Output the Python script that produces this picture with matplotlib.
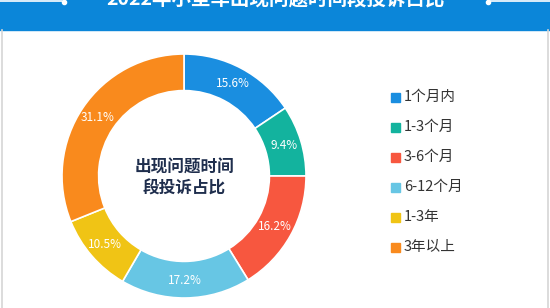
import matplotlib
matplotlib.use('Agg')
import matplotlib.pyplot as plt

plt.rcParams['font.family'] = ['Noto Sans CJK SC', 'DejaVu Sans']

TITLE = '2022年小型车出现问题时间段投诉占比'
CENTER_TEXT = '出现问题时间\n段投诉占比'
categories = ['1个月内', '1-3个月', '3-6个月', '6-12个月', '1-3年', '3年以上']
shares = [15.6, 9.4, 16.2, 17.2, 10.5, 31.1]
colors = ['#1a8ee0', '#13b39e', '#f7573f', '#67c6e4', '#f0c415', '#f98a1d']

W, H = 550, 308
fig = plt.figure(figsize=(W / 100, H / 100), dpi=100)
fig.patch.set_facecolor('white')

# background layer in pixel coords (y measured from top)
bg = fig.add_axes([0, 0, 1, 1])
bg.set_xlim(0, W)
bg.set_ylim(H, 0)
bg.axis('off')

BAND = '#0b86d9'
bg.add_patch(plt.Rectangle((0, 0), W, 30, color=BAND, zorder=1))
bg.text(W / 2 + 1, -1, TITLE, color='white', fontsize=14, fontweight='bold',
        ha='center', va='center', zorder=3)
bg.plot([0, 62], [1, 1], color='white', lw=1.2, zorder=2)
bg.plot([64], [2], 'o', color='white', ms=3, zorder=2)
bg.plot([488, W], [1, 1], color='white', lw=1.2, zorder=2)
bg.plot([488], [2], 'o', color='white', ms=3, zorder=2)
bg.plot([1.5, 1.5], [30, H], color='#d6d6d6', lw=1.2, zorder=2)
bg.plot([548, 548], [30, H], color='#d6d6d6', lw=1.2, zorder=2)

# legend
for i, (name, c) in enumerate(zip(categories, colors)):
    y = 97 + i * 30
    bg.add_patch(plt.Rectangle((391, y - 4.5), 9, 9, color=c, zorder=3))
    bg.text(404, y, name, fontsize=10.5, color='#333333', ha='left', va='center', zorder=3)

# donut
cx, cy, R = 184, 176, 122
ax = fig.add_axes([(cx - R) / W, (H - cy - R) / H, 2 * R / W, 2 * R / H])
wedges, texts, autotexts = ax.pie(
    shares, colors=colors, startangle=90, counterclock=False,
    autopct=lambda p: f'{p:.1f}%', pctdistance=0.855,
    wedgeprops=dict(width=0.3, edgecolor='white', linewidth=1.2),
    textprops=dict(color='white', fontsize=8.5))
ax.set_xlim(-1, 1)
ax.set_ylim(-1, 1)
ax.set_aspect('equal')
ax.axis('off')
ax.patch.set_alpha(0)

bg.text(cx, 178, CENTER_TEXT, fontsize=12, fontweight='bold', color='#1f2e4d',
        ha='center', va='center', linespacing=1.25, zorder=3)

fig.savefig('out.png', dpi=100)
